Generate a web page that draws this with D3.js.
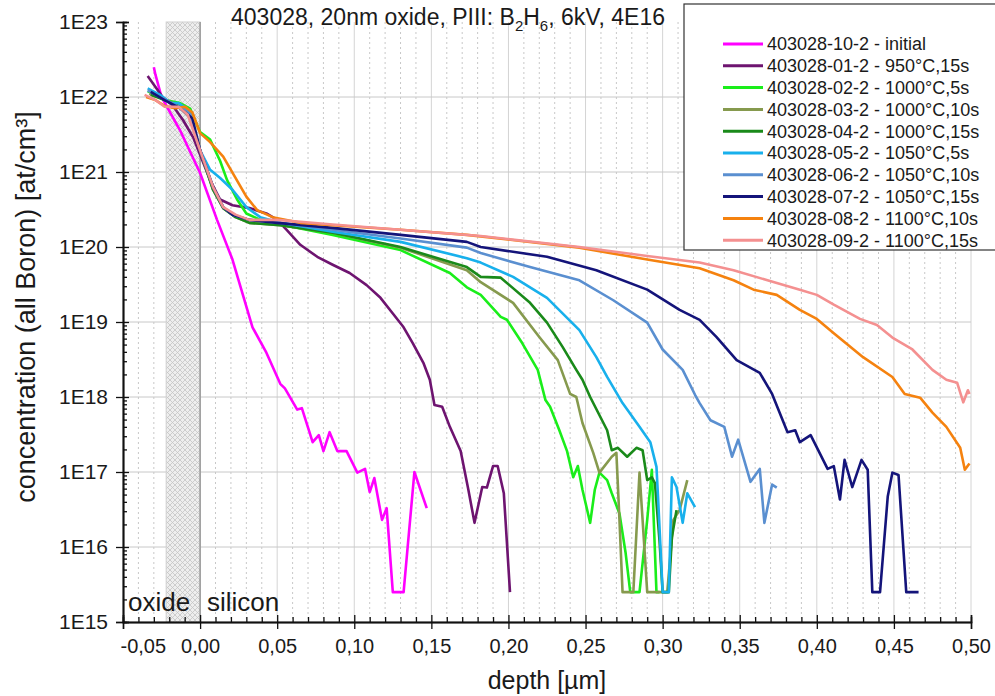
<!DOCTYPE html>
<html>
<head>
<meta charset="utf-8">
<style>
  body { margin: 0; background: #fff; }
  text { font-family: Arial, "Liberation Sans", sans-serif; fill: #1a1a1a; }
</style>
</head>
<body>
<script src="https://d3js.org/d3.v7.min.js"></script>
<script>
  // DATA: [depth in µm, boron concentration in at/cm³]
  const initial = [
    [-0.030, 2.5e22], [-0.029, 2.0e22], [-0.025, 1.0e22], [-0.013, 3.6e21], [0.000, 9.7e20],
    [0.011, 2.3e20], [0.021, 6.8e19], [0.034, 8.5e18], [0.043, 3.9e18], [0.052, 1.5e18],
    [0.055, 1.3e18], [0.063, 6.8e17], [0.066, 7.1e17], [0.073, 2.5e17], [0.077, 3.1e17],
    [0.080, 1.9e17], [0.084, 3.4e17], [0.089, 1.9e17], [0.095, 1.9e17], [0.102, 9.8e16],
    [0.107, 1.1e17], [0.110, 5.4e16], [0.113, 8.3e16], [0.118, 2.3e16], [0.121, 3.3e16],
    [0.125, 2.5e15], [0.132, 2.5e15], [0.139, 1.0e17], [0.147, 3.3e16]
  ];
  const s950c15 = [
    [-0.034, 1.9e22], [-0.024, 9.8e21], [-0.018, 7.8e21], [-0.011, 4.9e21], [-0.0045, 2.9e21],
    [0.000, 1.7e21], [0.0065, 7.8e20], [0.013, 4.3e20], [0.021, 3.6e20], [0.032, 3.3e20],
    [0.043, 2.8e20], [0.050, 2.3e20], [0.056, 1.7e20], [0.065, 1.07e20], [0.076, 7.4e19],
    [0.086, 5.8e19], [0.097, 4.5e19], [0.108, 3.1e19], [0.117, 2.1e19], [0.125, 1.3e19],
    [0.132, 8.5e18], [0.138, 5.2e18], [0.145, 2.8e18], [0.149, 1.7e18], [0.152, 7.8e17],
    [0.157, 7.4e17], [0.162, 4.0e17], [0.169, 1.9e17], [0.174, 5.8e16], [0.178, 2.1e16],
    [0.183, 6.3e16], [0.186, 6.2e16], [0.190, 1.2e17], [0.193, 1.2e17], [0.197, 5.2e16],
    [0.201, 2.5e15]
  ];
  const s1000c5 = [
    [-0.034, 1.2e22], [-0.023, 9.1e21], [-0.013, 8.3e21], [-0.0065, 7.0e21], [0.000, 3.4e21],
    [0.0065, 2.7e21], [0.013, 1.4e21], [0.0175, 7.8e20], [0.024, 4.3e20], [0.030, 2.8e20],
    [0.039, 2.3e20], [0.052, 2.0e20], [0.086, 1.45e20], [0.130, 9.1e19], [0.162, 4.5e19],
    [0.173, 2.9e19], [0.182, 2.3e19], [0.195, 1.17e19], [0.199, 1.07e19], [0.209, 5.2e18],
    [0.219, 2.3e18], [0.224, 9.1e17], [0.227, 7.4e17], [0.233, 3.6e17], [0.238, 1.9e17],
    [0.242, 8.5e16], [0.245, 1.2e17], [0.248, 5.8e16], [0.253, 2.1e16], [0.256, 5.8e16],
    [0.259, 9.8e16], [0.264, 7.8e16], [0.267, 5.2e16], [0.272, 2.8e16], [0.276, 8.3e15],
    [0.279, 2.5e15], [0.285, 2.5e15], [0.290, 2.3e16], [0.293, 1.07e17], [0.296, 2.5e15],
    [0.298, 2.5e15]
  ];
  const s1000c10 = [
    [-0.033, 1.1e22], [-0.023, 9.3e21], [-0.013, 7.6e21], [-0.0065, 5.8e21], [0.000, 1.95e21],
    [0.0084, 5.8e20], [0.015, 3.3e20], [0.023, 2.5e20], [0.032, 2.1e20], [0.052, 1.95e20],
    [0.086, 1.55e20], [0.130, 9.8e19], [0.173, 4.9e19], [0.182, 3.4e19], [0.203, 1.8e19],
    [0.220, 6.3e18], [0.232, 3.1e18], [0.240, 1.1e18], [0.244, 1.0e18], [0.248, 4.5e17],
    [0.255, 1.8e17], [0.259, 9.8e16], [0.267, 1.6e17], [0.270, 1.8e17], [0.272, 2.3e16],
    [0.274, 2.5e15], [0.281, 2.5e15], [0.285, 9.8e16], [0.287, 2.3e16], [0.290, 2.5e15],
    [0.303, 2.5e15], [0.307, 2.3e16], [0.311, 3.1e16], [0.316, 7.8e16]
  ];
  const s1000c15 = [
    [-0.032, 1.07e22], [-0.023, 9.1e21], [-0.013, 7.4e21], [-0.0065, 5.4e21], [0.000, 1.95e21],
    [0.0084, 5.8e20], [0.015, 3.3e20], [0.023, 2.5e20], [0.032, 2.1e20], [0.052, 1.95e20],
    [0.086, 1.55e20], [0.130, 1.0e20], [0.173, 5.4e19], [0.182, 4.0e19], [0.195, 3.9e19],
    [0.214, 1.8e19], [0.225, 9.8e18], [0.235, 4.7e18], [0.244, 2.3e18], [0.248, 1.7e18],
    [0.253, 1.0e18], [0.264, 3.6e17], [0.267, 1.95e17], [0.271, 2.1e17], [0.277, 1.6e17],
    [0.283, 2.1e17], [0.287, 1.95e17], [0.290, 7.8e16], [0.293, 8.5e16], [0.295, 7.1e16],
    [0.298, 1.2e16], [0.300, 2.5e15], [0.304, 2.5e15], [0.306, 1.35e16], [0.309, 3.1e16]
  ];
  const s1050c5 = [
    [-0.034, 1.3e22], [-0.026, 1.07e22], [-0.019, 8.3e21], [-0.014, 8.3e21], [-0.008, 6.8e21],
    [0.000, 1.95e21], [0.0065, 1.07e21], [0.013, 8.3e20], [0.021, 5.8e20], [0.030, 3.4e20],
    [0.039, 2.5e20], [0.052, 2.1e20], [0.086, 1.6e20], [0.130, 1.17e20], [0.173, 7.1e19],
    [0.182, 6.2e19], [0.203, 4.0e19], [0.225, 2.1e19], [0.246, 7.8e18], [0.257, 3.4e18],
    [0.264, 1.85e18], [0.274, 8.3e17], [0.285, 4.0e17], [0.292, 2.5e17], [0.296, 1.17e17],
    [0.297, 4.7e16], [0.300, 2.5e15], [0.304, 2.5e15], [0.306, 8.5e16], [0.309, 6.3e16],
    [0.313, 2.1e16], [0.316, 5.2e16], [0.321, 3.4e16]
  ];
  const s1050c10 = [
    [-0.034, 1.23e22], [-0.026, 1.0e22], [-0.016, 7.8e21], [-0.0065, 6.3e21], [0.000, 1.95e21],
    [0.0084, 6.3e20], [0.015, 3.4e20], [0.021, 2.7e20], [0.032, 2.3e20], [0.052, 2.1e20],
    [0.086, 1.7e20], [0.130, 1.3e20], [0.173, 9.8e19], [0.182, 8.3e19], [0.214, 5.4e19],
    [0.246, 3.6e19], [0.268, 1.95e19], [0.290, 9.8e18], [0.300, 4.3e18], [0.313, 2.3e18],
    [0.321, 1.07e18], [0.324, 8.3e17], [0.331, 4.9e17], [0.340, 4.0e17], [0.345, 1.6e17],
    [0.349, 2.7e17], [0.357, 7.4e16], [0.363, 1.1e17], [0.366, 2.1e16], [0.371, 6.8e16],
    [0.374, 6.2e16]
  ];
  const s1050c15 = [
    [-0.032, 1.17e22], [-0.023, 9.1e21], [-0.013, 7.1e21], [-0.005, 5.2e21], [0.000, 1.95e21],
    [0.0084, 6.3e20], [0.015, 3.4e20], [0.021, 2.7e20], [0.032, 2.3e20], [0.050, 2.1e20],
    [0.086, 1.8e20], [0.130, 1.45e20], [0.173, 1.17e20], [0.182, 1.0e20], [0.225, 7.4e19],
    [0.257, 4.9e19], [0.290, 2.7e19], [0.311, 1.45e19], [0.324, 1.07e19], [0.335, 6.3e18],
    [0.348, 3.1e18], [0.363, 2.1e18], [0.371, 1.1e18], [0.381, 3.4e17], [0.386, 3.6e17],
    [0.389, 2.5e17], [0.396, 3.1e17], [0.407, 1.1e17], [0.411, 1.2e17], [0.415, 4.3e16],
    [0.418, 1.45e17], [0.423, 6.3e16], [0.429, 1.45e17], [0.433, 1.07e17], [0.436, 2.5e15],
    [0.441, 2.5e15], [0.446, 4.7e16], [0.449, 9.8e16], [0.453, 9.1e16], [0.458, 2.5e15],
    [0.466, 2.5e15]
  ];
  const s1100c10 = [
    [-0.035, 1.0e22], [-0.029, 9.1e21], [-0.023, 7.6e21], [-0.016, 7.1e21], [-0.0097, 7.4e21],
    [-0.005, 6.2e21], [0.000, 3.3e21], [0.0065, 2.5e21], [0.015, 1.6e21], [0.021, 9.8e20],
    [0.030, 4.7e20], [0.037, 3.1e20], [0.047, 2.5e20], [0.065, 2.1e20], [0.086, 1.95e20],
    [0.130, 1.7e20], [0.173, 1.45e20], [0.246, 9.8e19], [0.290, 6.8e19], [0.324, 5.2e19],
    [0.346, 3.6e19], [0.359, 2.7e19], [0.374, 2.3e19], [0.389, 1.45e19], [0.400, 1.1e19],
    [0.411, 7.1e18], [0.430, 3.4e18], [0.449, 1.85e18], [0.457, 1.1e18], [0.467, 9.8e17],
    [0.475, 6.2e17], [0.484, 4.0e17], [0.493, 2.1e17], [0.496, 1.07e17], [0.499, 1.3e17]
  ];
  const s1100c15 = [
    [-0.036, 1.07e22], [-0.029, 9.1e21], [-0.023, 7.4e21], [-0.014, 7.4e21], [-0.008, 5.8e21],
    [0.000, 1.95e21], [0.0084, 6.3e20], [0.015, 3.4e20], [0.023, 2.7e20], [0.032, 2.3e20],
    [0.050, 2.3e20], [0.086, 2.0e20], [0.130, 1.7e20], [0.182, 1.4e20], [0.246, 1.0e20],
    [0.290, 7.6e19], [0.324, 6.2e19], [0.346, 4.9e19], [0.368, 3.6e19], [0.389, 2.7e19],
    [0.400, 2.3e19], [0.411, 1.7e19], [0.428, 1.1e19], [0.439, 9.1e18], [0.449, 6.2e18],
    [0.462, 4.3e18], [0.475, 2.3e18], [0.484, 1.7e18], [0.491, 1.55e18], [0.495, 8.5e17],
    [0.498, 1.23e18], [0.499, 1.1e18]
  ];

  const seriesNames = [
    "403028-10-2 - initial",
    "403028-01-2 - 950°C,15s",
    "403028-02-2 - 1000°C,5s",
    "403028-03-2 - 1000°C,10s",
    "403028-04-2 - 1000°C,15s",
    "403028-05-2 - 1050°C,5s",
    "403028-06-2 - 1050°C,10s",
    "403028-07-2 - 1050°C,15s",
    "403028-08-2 - 1100°C,10s",
    "403028-09-2 - 1100°C,15s"
  ];
  const seriesData = [initial, s950c15, s1000c5, s1000c10, s1000c15,
    s1050c5, s1050c10, s1050c15, s1100c10, s1100c15];
  const seriesColors = ["#ff00ff", "#6e1470", "#1aee1a", "#869a4e", "#1a8a1a",
    "#18b0ec", "#5a8fd0", "#14147a", "#f5820f", "#f49090"];

  const xTickValues = [-0.05, 0, 0.05, 0.1, 0.15, 0.2, 0.25, 0.3, 0.35, 0.4, 0.45, 0.5];
  const yTickValues = [1e15, 1e16, 1e17, 1e18, 1e19, 1e20, 1e21, 1e22, 1e23];
  const oxideRange = [-0.022, 0];

  // SCALES
  var x = d3.scaleLinear().domain([-0.05, 0.5]).range([123, 971]);
  var y = d3.scaleLog().domain([1e15, 1e23]).range([622, 22]);

  var comma = d3.formatLocale({ decimal: ",", thousands: ".", grouping: [3], currency: ["", ""], minus: "-" });
  var fmtX = comma.format(".2f");
  var fmtY = (d) => "1E" + Math.round(Math.log10(d));

  var xMinor = d3.range(-50, 501, 10).map((v) => v / 1000)
    .filter((v) => Math.abs(Math.round(v * 20) - v * 20) > 1e-6);
  var yMinor = [];
  for (var e = 15; e < 23; e++) {
    for (var k = 2; k < 10; k++) yMinor.push(k * Math.pow(10, e));
  }

  var svg = d3.select("body").append("svg").attr("width", 995).attr("height", 696);
  svg.append("rect").attr("width", 995).attr("height", 696).attr("fill", "#fff");

  // hatched pattern for the oxide layer
  var pat = svg.append("defs").append("pattern")
    .attr("id", "hatch").attr("width", 5).attr("height", 5)
    .attr("patternUnits", "userSpaceOnUse");
  pat.append("rect").attr("width", 5).attr("height", 5).attr("fill", "#eeeeee");
  pat.append("path").attr("d", "M0,0L5,5M5,0L0,5").attr("stroke", "#c4c4c4").attr("stroke-width", 0.8);

  // GRID
  var grid = svg.append("g");
  grid.selectAll("line.minor").data(xMinor).enter().append("line")
    .attr("x1", (d) => x(d)).attr("x2", (d) => x(d))
    .attr("y1", y(1e23)).attr("y2", y(1e15))
    .attr("stroke", "#c8c8c8").attr("stroke-dasharray", "2,3");
  grid.selectAll("line.major").data(xTickValues.slice(1)).enter().append("line")
    .attr("x1", (d) => x(d)).attr("x2", (d) => x(d))
    .attr("y1", y(1e23)).attr("y2", y(1e15))
    .attr("stroke", "#d4d4d4");
  grid.selectAll("line.h").data(yTickValues.slice(1, -1)).enter().append("line")
    .attr("x1", x(-0.05)).attr("x2", x(0.5))
    .attr("y1", (d) => y(d)).attr("y2", (d) => y(d))
    .attr("stroke", "#c8c8c8");

  // oxide layer
  svg.append("rect")
    .attr("x", x(oxideRange[0])).attr("y", y(1e23))
    .attr("width", x(oxideRange[1]) - x(oxideRange[0]))
    .attr("height", y(1e15) - y(1e23))
    .attr("fill", "url(#hatch)").attr("stroke", "#d0d0d0");
  svg.append("line")
    .attr("x1", x(0)).attr("x2", x(0)).attr("y1", y(1e23)).attr("y2", y(1e15))
    .attr("stroke", "#8a8a8a").attr("stroke-width", 1.2);

  // LINES
  var line = d3.line().x((d) => x(d[0])).y((d) => y(d[1]));
  svg.append("g").selectAll("path").data(seriesData).enter().append("path")
    .attr("d", line)
    .attr("fill", "none")
    .attr("stroke", (d, i) => seriesColors[i])
    .attr("stroke-width", 2.6)
    .attr("stroke-linejoin", "round");

  // AXES
  var xAxis = svg.append("g").attr("transform", "translate(0,622)")
    .call(d3.axisBottom(x).tickValues(xTickValues).tickFormat(fmtX).tickSize(7).tickPadding(10));
  svg.append("g").attr("transform", "translate(0,622)")
    .call(d3.axisBottom(x).tickValues(xTickValues).tickFormat("").tickSize(-7));
  svg.append("g").attr("transform", "translate(0,622)")
    .call(d3.axisBottom(x).tickValues(xMinor).tickFormat("").tickSize(-5));

  var yAxis = svg.append("g").attr("transform", "translate(123,0)")
    .call(d3.axisLeft(y).tickValues(yTickValues).tickFormat(fmtY).tickSize(7).tickPadding(8));
  svg.append("g").attr("transform", "translate(123,0)")
    .call(d3.axisLeft(y).tickValues(yTickValues).tickFormat("").tickSize(-6));
  svg.append("g").attr("transform", "translate(123,0)")
    .call(d3.axisLeft(y).tickValues(yMinor).tickFormat("").tickSize(-4));

  svg.selectAll(".domain").attr("stroke", "#111").attr("stroke-width", 1.5);
  svg.selectAll(".tick line").attr("stroke", "#111").attr("stroke-width", 1.3);
  xAxis.selectAll("text").style("font-size", "20px").attr("fill", "#1a1a1a");
  // first label sits to the right of the y axis
  xAxis.selectAll("text").filter((d) => d < 0).attr("text-anchor", "start").attr("x", -3);
  yAxis.selectAll("text").style("font-size", "21px").attr("fill", "#1a1a1a");

  // AXIS TITLES
  svg.append("text").attr("x", 547).attr("y", 689).attr("text-anchor", "middle")
    .style("font-size", "25px").text("depth [µm]");
  svg.append("text")
    .attr("transform", "translate(35,307) rotate(-90)")
    .attr("text-anchor", "middle").style("font-size", "27px")
    .text("concentration (all Boron) [at/cm³]");

  // TITLE with subscripts
  var title = svg.append("text").attr("x", 448).attr("y", 25)
    .attr("text-anchor", "middle").style("font-size", "23px");
  title.append("tspan").text("403028, 20nm oxide, PIII: B");
  title.append("tspan").attr("dy", 6).style("font-size", "15px").text("2");
  title.append("tspan").attr("dy", -6).text("H");
  title.append("tspan").attr("dy", 6).style("font-size", "15px").text("6");
  title.append("tspan").attr("dy", -6).text(", 6kV, 4E16");

  // layer labels
  svg.append("text").attr("x", 128).attr("y", 611).style("font-size", "26px").text("oxide");
  svg.append("text").attr("x", 207).attr("y", 611).style("font-size", "26px").text("silicon");

  // LEGEND
  var legend = svg.append("g");
  legend.append("rect").attr("x", 684).attr("y", 4).attr("width", 320).attr("height", 246)
    .attr("fill", "#fff").attr("stroke", "#333").attr("stroke-width", 1.2);
  var rows = legend.selectAll("g.row").data(seriesNames).enter().append("g")
    .attr("transform", (d, i) => "translate(0," + (44 + i * 21.8) + ")");
  rows.append("line").attr("x1", 723).attr("x2", 763)
    .attr("stroke", (d, i) => seriesColors[i]).attr("stroke-width", 3);
  rows.append("text").attr("x", 767).attr("dy", "0.36em")
    .style("font-size", "18px").text((d) => d);
</script>
</body>
</html>
